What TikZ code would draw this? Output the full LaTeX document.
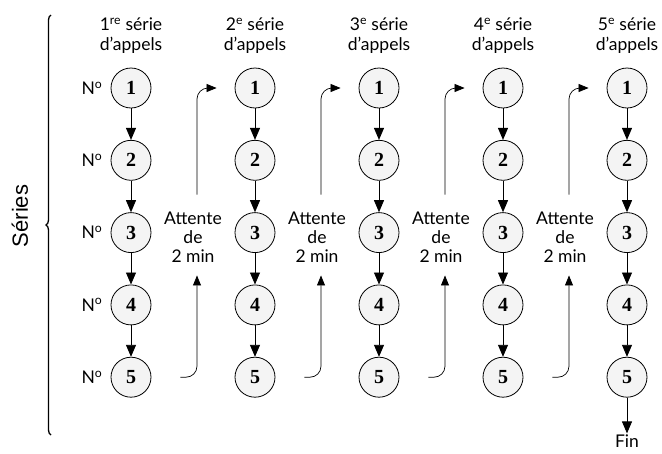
\documentclass[tikz,border=0pt]{standalone}
\usepackage{fontspec}
\setmainfont{Lato}
\setsansfont{Liberation Sans}
\newfontfamily\numfont{Liberation Serif}
\usetikzlibrary{arrows.meta,positioning,decorations.pathreplacing}

\tikzset{
  num/.style={circle, draw, line width=0.8pt, fill=gray!9, minimum size=40pt,
    inner sep=0pt, font=\numfont\bfseries\fontsize{20}{20}\selectfont},
  lbl/.style={align=center, inner sep=1pt, font=\fontsize{17.5}{19}\selectfont},
  arr/.style={-{Triangle[length=12pt,width=10pt]}, line width=0.9pt},
  wait/.style={-{Triangle[length=10pt,width=8pt]}, line width=0.7pt, rounded corners=11pt},
}

\begin{document}
\begin{tikzpicture}[x=1pt, y=-1pt]
    \useasboundingbox (0,0) rectangle (662,453);

    % Circles of each series
    \foreach \i in {1,...,5}
      \foreach \j in {1,...,5}
        \node[num] (c-\i-\j) at ({131+(\i-1)*124}, {88+(\j-1)*72.3}) {\j};

    % Headers
    \foreach \i/\s in {1/re,2/e,3/e,4/e,5/e}
      \node[lbl, font=\fontsize{17.5}{20}\selectfont, above=13pt of c-\i-1]
        (h-\i) {\i\textsuperscript{\s} série\\d’appels};

    % N° labels
    \foreach \j in {1,...,5}
      \node[lbl, left=7pt of c-1-\j] (n-\j) {N\textsuperscript{o}};

    % Arrows down each series
    \foreach \i in {1,...,5}
      \foreach \j/\k in {1/2,2/3,3/4,4/5}
        \draw[arr] (c-\i-\j.south) -- (c-\i-\k.north);

    % End
    \node[lbl] (fin) at (627,441) {Fin};
    \draw[arr] (c-5-5.south) -- (fin.north);

    % Waiting between series
    \foreach \i/\k in {1/2,2/3,3/4,4/5} {
      \node[lbl] (a-\i) at ({193+(\i-1)*124}, 237) {Attente\\de\\2 min};
      \draw[wait, shorten >=12pt] ([xshift=29pt]c-\i-5.east) -| ([xshift=4pt]a-\i.south);
      \draw[wait, shorten <=16pt, shorten >=18pt] ([xshift=4pt]a-\i.north) |- (c-\k-1.west);
    }

    % Brace
    \draw[decorate, decoration={brace, amplitude=5pt}, line width=1.3pt]
      (51,435) -- (51,15);
    \node[rotate=90, font=\sffamily\fontsize{22}{22}\selectfont] (series) at (20,216) {Séries};
\end{tikzpicture}
\end{document}
